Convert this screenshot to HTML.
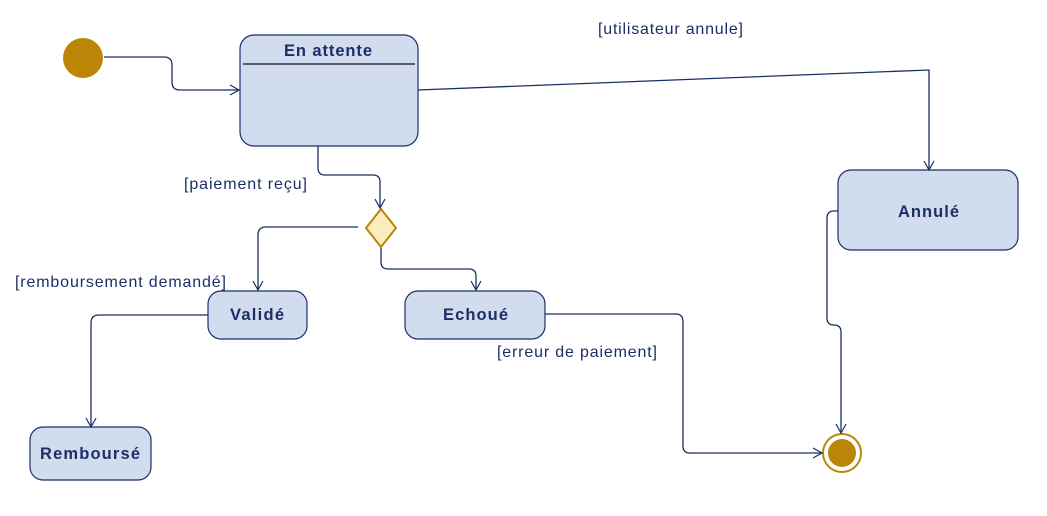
<!DOCTYPE html>
<html><head><meta charset="utf-8">
<style>
html,body{margin:0;padding:0;background:#fff;width:1047px;height:516px;overflow:hidden}
svg{display:block}
text{font-family:"Liberation Sans",Arial,sans-serif}
.lbl{font-size:16px;fill:#1b2f66}
.st{font-size:16.5px;font-weight:bold;fill:#1b2f66}
.box{fill:#d1dcef;stroke:#1b2f66;stroke-width:1.2}
.e{fill:none;stroke:#1b2f66;stroke-width:1.3}
</style></head><body>
<svg width="1047" height="516" viewBox="0 0 1047 516">
<defs>
<marker id="a" markerWidth="12" markerHeight="12" refX="10" refY="6" orient="auto" markerUnits="userSpaceOnUse">
<path d="M1,1 L10,6 L1,11" fill="none" stroke="#1b2f66" stroke-width="1.2"/>
</marker>
</defs>
<circle cx="83" cy="58" r="20" fill="#bb8508"/>
<rect class="box" x="240" y="35" width="178" height="111" rx="14"/>
<line x1="243" y1="64" x2="415" y2="64" stroke="#111" stroke-width="1.2"/>
<text class="st" x="284" y="56" textLength="88" lengthAdjust="spacing">En attente</text>
<rect class="box" x="838" y="170" width="180" height="80" rx="13"/>
<text class="st" x="898" y="217" textLength="61" lengthAdjust="spacing">Annulé</text>
<rect class="box" x="208" y="291" width="99" height="48" rx="13"/>
<text class="st" x="230" y="320" textLength="54" lengthAdjust="spacing">Validé</text>
<rect class="box" x="405" y="291" width="140" height="48" rx="13"/>
<text class="st" x="443" y="320" textLength="65" lengthAdjust="spacing">Echoué</text>
<rect class="box" x="30" y="427" width="121" height="53" rx="13"/>
<text class="st" x="40" y="459" textLength="100" lengthAdjust="spacing">Remboursé</text>
<polygon points="381,209 396,228 381,247 366,228" fill="#fdecc0" stroke="#bb8508" stroke-width="2"/>
<circle cx="842" cy="453" r="19" fill="#fff" stroke="#bb8508" stroke-width="2"/>
<circle cx="842" cy="453" r="14" fill="#bb8508"/>
<path class="e" d="M104,57 H164 Q172,57 172,65 V82 Q172,90 180,90 H239" marker-end="url(#a)"/>
<path class="e" d="M418,90 L929,70 V170" marker-end="url(#a)"/>
<path class="e" d="M318,146 V168 Q318,175 325,175 H373 Q380,175 380,182 V208" marker-end="url(#a)"/>
<path class="e" d="M358,227 H266 Q258,227 258,235 V290" marker-end="url(#a)"/>
<path class="e" d="M381,248 V262 Q381,269 388,269 H469 Q476,269 476,276 V290" marker-end="url(#a)"/>
<path class="e" d="M208,315 H99 Q91,315 91,323 V427" marker-end="url(#a)"/>
<path class="e" d="M545,314 H676 Q683,314 683,322 V446 Q683,453 690,453 H822" marker-end="url(#a)"/>
<path class="e" d="M838,211 H834 Q827,211 827,218 V318 Q827,325 834,325 Q841,325 841,332 V433" marker-end="url(#a)"/>
<text class="lbl" x="598" y="34" textLength="145" lengthAdjust="spacing">[utilisateur annule]</text>
<text class="lbl" x="184" y="189" textLength="123" lengthAdjust="spacing">[paiement reçu]</text>
<text class="lbl" x="15" y="287" textLength="211" lengthAdjust="spacing">[remboursement demandé]</text>
<text class="lbl" x="497" y="357" textLength="160" lengthAdjust="spacing">[erreur de paiement]</text>
</svg>
</body></html>
